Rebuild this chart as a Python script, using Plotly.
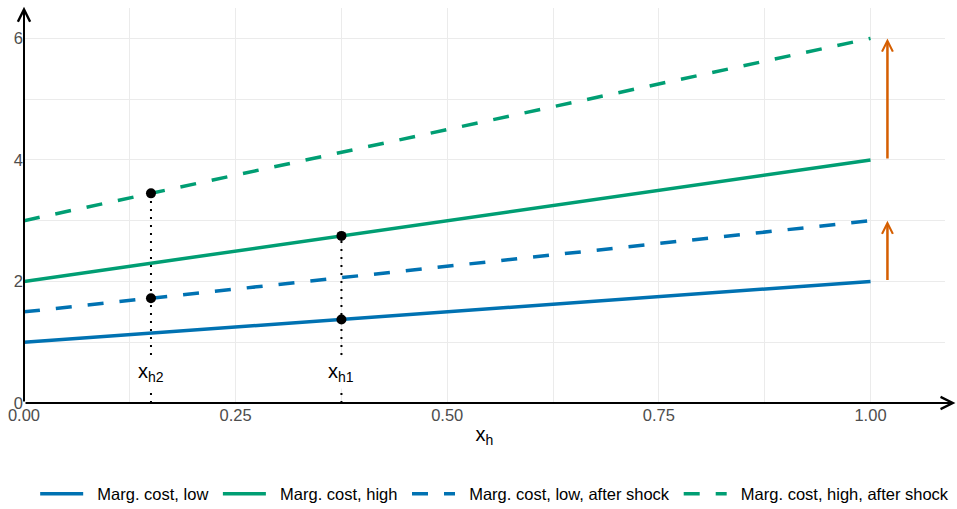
import plotly.graph_objects as go

# ---- data ----
x_ends = [0.0, 1.0]
mc_low = [1.0, 2.0]
mc_high = [2.0, 4.0]
mc_low_shock = [1.5, 3.0]
mc_high_shock = [3.0, 6.0]

series_names = ["Marg. cost, low", "Marg. cost, high",
                "Marg. cost, low, after shock", "Marg. cost, high, after shock"]

# equilibrium points
x_h1 = 0.375
x_h1_pts = [1.375, 2.75]
x_h2 = 0.15
x_h2_pts = [1.725, 3.45]
guide_labels = ["x<sub>h1</sub>", "x<sub>h2</sub>"]
guide_label_y = 0.51

# shock arrows
arrow_x = 1.02
arrow_from = [2.0, 4.0]
arrow_to = [3.0, 6.0]

x_ticks = [0, 0.25, 0.5, 0.75, 1.0]
y_ticks = [0, 2, 4, 6]
x_range = [0, 1.088]
y_range = [0, 6.5]

BLUE = "#0072B2"
GREEN = "#009E73"
ORANGE = "#D55E00"
GRID = "#EBEBEB"
FONT = "Liberation Sans, Arial, sans-serif"
NBSP = "\u00a0"

fig = go.Figure()

styles = [(BLUE, "solid"), (GREEN, "solid"), (BLUE, "16px,16px"), (GREEN, "16px,16px")]
for name, ys, (col, dash) in zip(series_names, [mc_low, mc_high, mc_low_shock, mc_high_shock], styles):
    fig.add_trace(go.Scatter(x=x_ends, y=ys, mode="lines", name=NBSP * 2 + name + NBSP,
                             line=dict(color=col, width=3.5, dash=dash)))

# dotted guides
for xv, pts in [(x_h1, x_h1_pts), (x_h2, x_h2_pts)]:
    fig.add_trace(go.Scatter(x=[xv, xv], y=[0, max(pts)], mode="lines", showlegend=False,
                             line=dict(color="black", width=2, dash="2px,6px"), hoverinfo="skip"))

# points
fig.add_trace(go.Scatter(x=[x_h1, x_h1, x_h2, x_h2], y=x_h1_pts + x_h2_pts, mode="markers",
                         showlegend=False, marker=dict(color="black", size=10)))

annotations = []
# guide labels
for xv, lab in zip([x_h1, x_h2], guide_labels):
    annotations.append(dict(x=xv, y=guide_label_y, xref="x", yref="y", text=lab, showarrow=False,
                            bgcolor="white", font=dict(family=FONT, size=20, color="black"),
                            borderpad=3))
# shock arrows
for a0, a1 in zip(arrow_from, arrow_to):
    annotations.append(dict(x=arrow_x, y=a1, ax=arrow_x, ay=a0, xref="x", yref="y",
                            axref="x", ayref="y", text="", showarrow=True,
                            arrowhead=5, arrowsize=0.85, arrowwidth=2.5, arrowcolor=ORANGE))
# axis arrows
annotations.append(dict(x=1.1003, y=0, ax=0, ay=0, xref="x", yref="y", axref="x", ayref="y",
                        text="", showarrow=True, arrowhead=5, arrowsize=1.2, arrowwidth=2,
                        arrowcolor="black"))
annotations.append(dict(x=0, y=6.52, ax=0, ay=0, xref="x", yref="y", axref="x", ayref="y",
                        text="", showarrow=True, arrowhead=5, arrowsize=1.2, arrowwidth=2,
                        arrowcolor="black"))

fig.update_layout(
    width=957, height=509,
    margin=dict(l=24, r=12, t=8, b=106, autoexpand=False),
    paper_bgcolor="white", plot_bgcolor="white",
    font=dict(family=FONT, color="black"),
    annotations=annotations,
    showlegend=True,
    legend=dict(orientation="h", x=0.519, xref="container", xanchor="center",
                y=15 / 509, yref="container", yanchor="middle",
                font=dict(size=16.5, color="black"), itemwidth=43),
    xaxis=dict(range=x_range, tickvals=x_ticks, tickformat=".2f", showgrid=True,
               gridcolor=GRID, gridwidth=1.2, zeroline=False, showline=False,
               tickfont=dict(size=16.5, color="#4D4D4D"), automargin=False,
               minor=dict(dtick=0.125, showgrid=True, gridcolor=GRID, gridwidth=0.8),
               title=dict(text="x<sub>h</sub>", font=dict(size=20, color="black"), standoff=4)),
    yaxis=dict(range=y_range, tickvals=y_ticks, showgrid=True, gridcolor=GRID, gridwidth=1.2,
               zeroline=False, showline=False, tickfont=dict(size=16.5, color="#4D4D4D"),
               automargin=False,
               minor=dict(dtick=1, showgrid=True, gridcolor=GRID, gridwidth=0.8)),
)

fig.write_html("out.html")
